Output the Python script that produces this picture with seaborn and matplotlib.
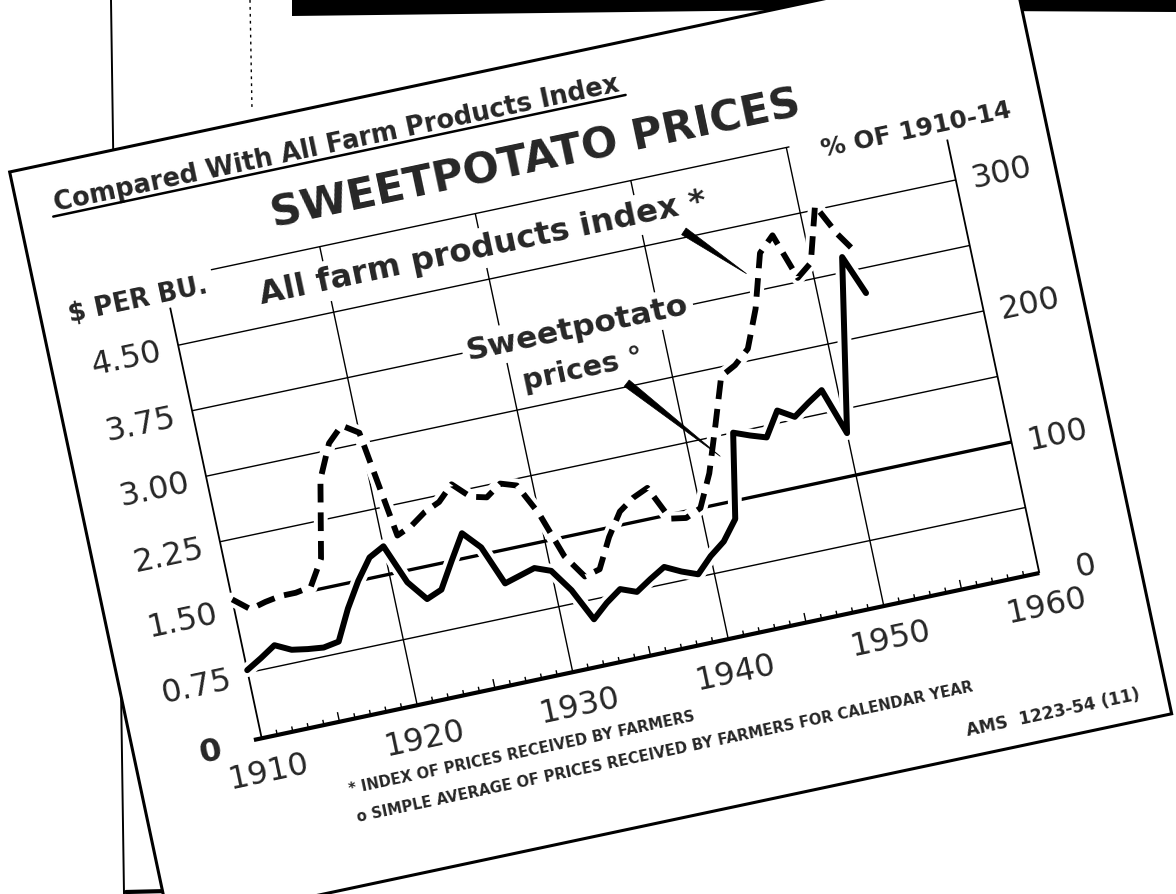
import matplotlib
matplotlib.use("Agg")
import matplotlib.pyplot as plt
from matplotlib.patches import Polygon
from matplotlib.transforms import Affine2D
import numpy as np
import pandas as pd
import seaborn as sns

# values
years = list(range(1910, 1954))
sweetpotato_price = [0.78, 0.88, 0.99, 0.90, 0.87, 0.85, 0.88, 1.22, 1.50, 1.73,
                     1.82, 1.37, 1.14, 1.21, 1.50, 1.78, 1.58, 1.13, 1.18, 1.23,
                     1.16, 0.90, 0.53, 0.68, 0.80, 0.73, 0.84, 0.94, 0.85, 0.78,
                     0.95, 1.08, 1.30, 2.25, 2.18, 2.12, 2.39, 2.28, 2.40, 2.51,
                     1.98, 2.95, 3.92, 3.47]          # $ per bushel
farm_index = [106, 96, 99, 101, 101, 103, 122, 180, 205, 216,
              208, 127, 132, 140, 145, 156, 144, 141, 149, 145,
              121, 86, 68, 71, 93, 110, 118, 123, 97, 95,
              100, 124, 158, 193, 199, 209, 237, 277, 288, 253,
              262, 303, 279, 261]                      # % of 1910-14

left_ticks = [0, 0.75, 1.50, 2.25, 3.00, 3.75, 4.50]
left_labels = ["0", "0.75", "1.50", "2.25", "3.00", "3.75", "4.50"]
right_ticks = [0, 100, 200, 300]
year_labels = [1910, 1920, 1930, 1940, 1950, 1960]
DOLLARS_PER_100PCT = 1.50   # 100 on the right scale sits on the $1.50 line

sns.set_style("white")
plt.rcParams["font.family"] = ["DejaVu Sans"]

W, H = 1176, 894
fig = plt.figure(figsize=(W / 100, H / 100), dpi=100)

# scanned page behind the card (pixel coordinates)
bg = fig.add_axes([0, 0, 1, 1])
bg.set_xlim(0, W)
bg.set_ylim(H, 0)
bg.axis("off")
bg.plot([111, 124], [0, 894], color="black", lw=1.4)
bg.plot([250, 252], [0, 110], color="black", lw=1.0, linestyle=(0, (2, 3)))
bg.plot([126, 210], [892, 890], color="black", lw=3)
bg.fill([292, 1176, 1176, 800, 292], [0, 0, 12, 10, 16], color="black", lw=0)

# the chart itself, drawn on a tilted card
ax = fig.add_axes([0, 0, 1, 1])
ax.axis("off")
PX_YR, PX_D = 15.9, 89.3          # pixels per year, pixels per dollar
OX, OY = 261.7, H - 738.3         # where 1910 / $0 lands
ANGLE = 12
ax.set_xlim(1910 - OX / PX_YR, 1910 + (W - OX) / PX_YR)
ax.set_ylim(-OY / PX_D, (H - OY) / PX_D)
ax.set_autoscale_on(False)
T = ax.transData + Affine2D().rotate_deg_around(OX, OY, ANGLE)
renderer = fig.canvas.get_renderer()

card = Polygon([(1901.9, -1.85), (1966.3, -1.85), (1966.3, 6.79), (1901.9, 6.79)],
               closed=True, facecolor="white", edgecolor="black", lw=2.2,
               transform=T, zorder=0.5)
ax.add_patch(card)

# grid and frame
grid_kw = dict(color="black", transform=T, zorder=1)
ax.hlines([0.75, 2.25, 3.00, 3.75, 4.50], 1910, 1960, lw=1.0, **grid_kw)
ax.hlines(1.50, 1910, 1960, lw=2.4, **grid_kw)
ax.hlines(5.25, 1913, 1950.2, lw=1.0, **grid_kw)
ax.vlines([1920, 1930, 1940, 1950], 0, 5.25, lw=1.0, **grid_kw)
ax.vlines(1910, 0, 4.93, lw=1.3, **grid_kw)
ax.vlines(1960, 0, 4.98, lw=1.3, **grid_kw)
ax.hlines(0, 1909.5, 1960, lw=3.0, **grid_kw)
minor = [y for y in range(1911, 1960) if y % 10]
ax.vlines(minor, 0, [0.11 if y % 5 == 0 else 0.06 for y in minor], lw=1.0, **grid_kw)

# data
df = pd.DataFrame({"year": years, "sweetpotato": sweetpotato_price, "index_pct": farm_index})
df["index_on_left"] = df["index_pct"] * DOLLARS_PER_100PCT / 100

for col in ["index_on_left", "sweetpotato"]:
    sns.lineplot(data=df, x="year", y=col, ax=ax, color="white", linewidth=10,
                 errorbar=None, transform=T, zorder=3, legend=False)
sns.lineplot(data=df, x="year", y="index_on_left", ax=ax, color="black", linewidth=4.2,
             linestyle=(0, (3.2, 1.7)), errorbar=None, transform=T, zorder=4, legend=False)
sns.lineplot(data=df, x="year", y="sweetpotato", ax=ax, color="black", linewidth=4.3,
             solid_joinstyle="round", solid_capstyle="round",
             errorbar=None, transform=T, zorder=5, legend=False)


def put(x, y, s, span=None, size=12, box=False, **kw):
    kw.setdefault("ha", "center")
    kw.setdefault("va", "baseline")
    if box:
        kw["bbox"] = dict(boxstyle="square,pad=0.15", facecolor="white", edgecolor="none")
    t = ax.text(x, y, s, transform=T, size=size, rotation_mode="anchor", zorder=6, **kw)
    if span:
        w = t.get_window_extent(renderer).width
        t.set_fontsize(size * span * PX_YR / w)
    t.set_rotation(ANGLE)
    return t


def wedge(x0, y0, x1, y1, w=8):
    p0 = np.array([(x0 - 1910) * PX_YR, y0 * PX_D])
    p1 = np.array([(x1 - 1910) * PX_YR, y1 * PX_D])
    d = p1 - p0
    n = np.array([-d[1], d[0]]) / np.hypot(*d) * w / 2
    pts = [(1910 + p[0] / PX_YR, p[1] / PX_D) for p in (p0 + n, p0 - n, p1)]
    ax.add_patch(Polygon(pts, closed=True, facecolor="black", edgecolor="black",
                         lw=0.5, transform=T, zorder=5))


# tick labels
for v, s in zip(left_ticks, left_labels):
    put(1907.4 if v == 0 else 1908.9, v - 0.13, s, size=23, ha="right",
        fontweight="bold" if v == 0 else "normal")
for p in right_ticks:
    put(1962.3 if p == 0 else 1961.0, p * DOLLARS_PER_100PCT / 100 - 0.13, str(p),
        size=23, ha="left")
for yr in year_labels:
    put(yr, -0.48, str(yr), size=23)

# titles and labels
put(1922.4, 6.25, "Compared With All Farm Products Index", span=36.4, size=18,
    fontweight="bold")
ax.plot([1904.0, 1940.8], [6.20, 6.20], color="black", lw=1.8, transform=T, zorder=6)
put(1934.4, 5.57, "SWEETPOTATO PRICES", span=34.0, size=28, fontweight="bold")
put(1908.1, 5.00, "$ PER BU.", span=8.9, size=16, fontweight="bold")
put(1958.2, 5.06, "% OF 1910-14", span=12.2, size=16, fontweight="bold", box=True)
put(1930.0, 4.76, "All farm products index *", span=28.6, size=22, fontweight="bold", box=True)
put(1934.8, 3.66, "Sweetpotato", span=14.2, size=20, fontweight="bold", box=True)
put(1934.6, 3.20, "prices \u00b0", span=7.7, size=20, fontweight="bold", box=True)
wedge(1942.6, 4.57, 1945.9, 3.96)
wedge(1937.1, 3.04, 1941.9, 2.02)

# footnotes
put(1925.8, -0.82, "* INDEX OF PRICES RECEIVED BY FARMERS", span=22.0, size=9,
    fontweight="bold")
put(1934.6, -1.14, "o SIMPLE AVERAGE OF PRICES RECEIVED BY FARMERS FOR CALENDAR YEAR",
    span=39.5, size=9, fontweight="bold")
put(1959.0, -1.62, "AMS  1223-54 (11)", span=11.2, size=9, fontweight="bold")

fig.savefig("out.png", dpi=100)
